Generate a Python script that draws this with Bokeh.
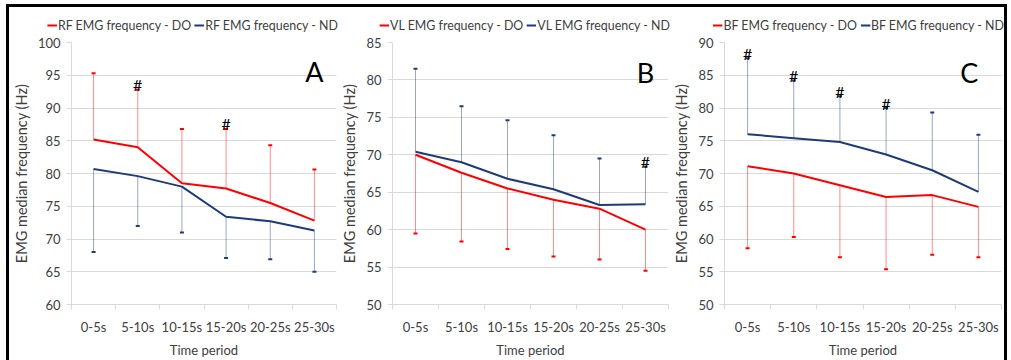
from bokeh.plotting import figure
from bokeh.layouts import row, column
from bokeh.models import (Range1d, FixedTicker, SingleIntervalTicker, Legend, LegendItem,
                          Whisker, TeeHead, ColumnDataSource, Label)
from bokeh.core.properties import value
from bokeh.embed import file_html
from bokeh.resources import INLINE

categories = ["0-5s", "5-10s", "10-15s", "15-20s", "20-25s", "25-30s"]

rf_do = [85.2, 84.0, 78.5, 77.7, 75.5, 72.8]
rf_do_cap = [95.3, 92.8, 86.8, 86.8, 84.3, 80.6]
rf_nd = [80.7, 79.6, 78.0, 73.4, 72.7, 71.3]
rf_nd_cap = [68.0, 72.0, 71.0, 67.1, 66.9, 65.0]

vl_do = [70.0, 67.6, 65.5, 64.0, 62.8, 60.0]
vl_do_cap = [59.5, 58.4, 57.4, 56.4, 56.0, 54.5]
vl_nd = [70.4, 69.0, 66.8, 65.4, 63.3, 63.4]
vl_nd_cap = [81.5, 76.5, 74.6, 72.6, 69.5, 68.4]

bf_do = [71.1, 70.0, 68.2, 66.4, 66.7, 64.9]
bf_do_cap = [58.6, 60.3, 57.2, 55.4, 57.6, 57.2]
bf_nd = [76.0, 75.4, 74.8, 72.9, 70.5, 67.2]
bf_nd_cap = [87.6, 84.2, 81.8, 80.0, 79.3, 75.9]

# significance markers: (series, category indices)
rf_hash = ("DO", [1, 3])
vl_hash = ("ND", [5])
bf_hash = ("ND", [0, 1, 2, 3])

RED = "#ff0000"
NAVY = "#1f3b78"
GRAY = "#d9d9d9"
TXT = "#404040"
FONT = "Lato"

LEG_H = 26
H = 327
TOP = 9
BOTTOM = 55

xs = [i + 0.5 for i in range(len(categories))]


def no_align(fig):
    try:
        fig.frame_align = False
    except Exception:
        pass


def panel(muscle, do, do_cap, nd, nd_cap, hashes, yr, letter, letter_x, letter_y,
          width, left, right):
    p = figure(width=width, height=H, output_backend="svg", toolbar_location=None,
               x_range=Range1d(0, len(categories)), y_range=Range1d(*yr),
               min_border_left=left, min_border_right=right,
               min_border_top=TOP, min_border_bottom=BOTTOM)
    no_align(p)
    p.outline_line_color = None
    p.xgrid.grid_line_color = None
    p.ygrid.grid_line_color = GRAY
    p.ygrid.ticker = SingleIntervalTicker(interval=5)

    # x axis
    p.xaxis.ticker = FixedTicker(ticks=xs, minor_ticks=list(range(len(categories) + 1)))
    p.xaxis.major_label_overrides = {x: c for x, c in zip(xs, categories)}
    p.xaxis.major_tick_out = 0
    p.xaxis.major_tick_in = 0
    p.xaxis.minor_tick_out = 5
    p.xaxis.minor_tick_in = 0
    p.xaxis.minor_tick_line_color = GRAY
    p.xaxis.axis_line_color = GRAY
    p.xaxis.major_label_standoff = 9
    p.xaxis.axis_label = "Time period"
    p.xaxis.axis_label_standoff = 4

    # y axis
    p.yaxis.ticker = SingleIntervalTicker(interval=5)
    p.yaxis.minor_tick_line_color = None
    p.yaxis.major_tick_out = 5
    p.yaxis.major_tick_in = 0
    p.yaxis.major_tick_line_color = GRAY
    p.yaxis.axis_line_color = GRAY
    p.yaxis.major_label_standoff = 6
    p.yaxis.axis_label = "EMG median frequency (Hz)"
    p.yaxis.axis_label_standoff = 5

    for ax in (p.xaxis, p.yaxis):
        ax.major_label_text_font = FONT
        ax.major_label_text_font_size = "13px"
        ax.major_label_text_color = TXT
        ax.axis_label_text_font = FONT
        ax.axis_label_text_font_size = "13px"
        ax.axis_label_text_font_style = "normal"
        ax.axis_label_text_color = TXT
    p.yaxis.axis_label_text_font_size = "14.5px"

    series = {}
    for name, mean, cap, col in (("DO", do, do_cap, RED), ("ND", nd, nd_cap, NAVY)):
        src = ColumnDataSource(dict(
            x=xs, mean=mean, cap=cap,
            lo=[min(a, b) for a, b in zip(mean, cap)],
            hi=[max(a, b) for a, b in zip(mean, cap)]))
        up = cap[0] > mean[0]
        tee = TeeHead(size=4, line_width=2, line_color=col)
        w = Whisker(source=src, base="x", lower="lo", upper="hi", dimension="height",
                    line_color=col, line_alpha=0.45, line_width=1,
                    upper_head=tee if up else None,
                    lower_head=None if up else tee)
        p.add_layout(w)
        p.line("x", "mean", source=src, line_color=col, line_width=2)
        series[name] = src

    hs_name, hs_idx = hashes
    hsrc = ColumnDataSource(dict(
        x=[xs[i] for i in hs_idx],
        y=[(do_cap if hs_name == "DO" else nd_cap)[i] for i in hs_idx],
        t=["#"] * len(hs_idx)))
    p.text("x", "y", text="t", source=hsrc, text_align="center",
           text_baseline="alphabetic", y_offset=-5, text_font=value(FONT),
           text_font_size="16px", text_color="black")

    p.add_layout(Label(x=letter_x, y=letter_y, text=letter, text_align="center",
                       text_baseline="alphabetic", text_font=FONT,
                       text_font_size="27px", text_color="black"))

    # legend strip above the plot (same series, plotted out of view)
    lf = figure(width=width, height=LEG_H, output_backend="svg", toolbar_location=None,
                x_axis_type=None, y_axis_type=None,
                x_range=Range1d(0, len(categories)), y_range=Range1d(0, 1),
                min_border_left=0, min_border_right=0,
                min_border_top=0, min_border_bottom=0)
    no_align(lf)
    lf.outline_line_color = None
    lf.grid.visible = False
    r_do = lf.line("x", "mean", source=series["DO"], line_color=RED, line_width=2)
    r_nd = lf.line("x", "mean", source=series["ND"], line_color=NAVY, line_width=2)
    legend = Legend(items=[
        LegendItem(label=f"{muscle} EMG frequency - DO", renderers=[r_do]),
        LegendItem(label=f"{muscle} EMG frequency - ND", renderers=[r_nd])],
        orientation="horizontal", location="bottom_right", margin=0, padding=0,
        spacing=3, glyph_width=10, glyph_height=16, label_height=16,
        label_standoff=1, border_line_color=None, background_fill_alpha=0,
        label_text_font=FONT, label_text_font_size="12.4px", label_text_color=TXT)
    lf.add_layout(legend, "center")
    return column(lf, p)


cA = panel("RF", rf_do, rf_do_cap, rf_nd, rf_nd_cap, rf_hash, (60, 100), "A", 5.5, 95.5,
           329, 57, 2)
cB = panel("VL", vl_do, vl_do_cap, vl_nd, vl_nd_cap, vl_hash, (50, 85), "B", 5.5, 81.0,
           332, 53, 2)
cC = panel("BF", bf_do, bf_do_cap, bf_nd, bf_nd_cap, bf_hash, (50, 90), "C", 5.3, 85.4,
           334, 53, 3)

layout = row(cA, cB, cC, margin=(4, 0, 0, 6),
             styles={"border-top": "3px solid black",
                     "border-left": "3px solid black",
                     "border-right": "3px solid black"})

open("out.html", "w").write(file_html(layout, INLINE))
